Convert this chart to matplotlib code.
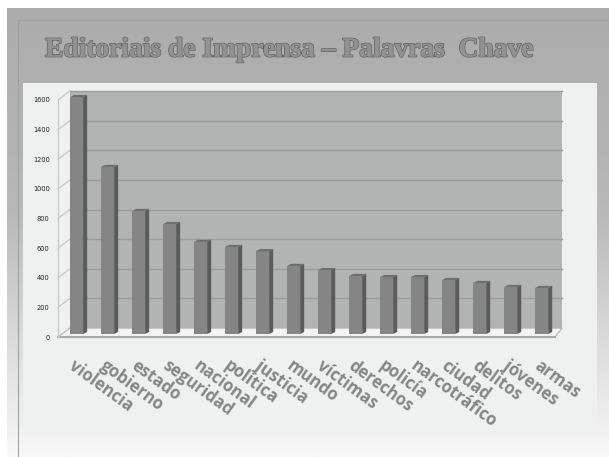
import matplotlib
matplotlib.use('Agg')
import matplotlib.pyplot as plt
import matplotlib.patheffects as pe
from matplotlib.patches import Polygon, Rectangle
import numpy as np

W, H = 609, 457

palavras = ['violencia', 'gobierno', 'estado', 'seguridad', 'nacional', 'política',
            'justicia', 'mundo', 'víctimas', 'derechos', 'policía', 'narcotráfico',
            'ciudad', 'delitos', 'jóvenes', 'armas']
valores = [1600, 1128, 831, 743, 622, 588, 560, 460, 432, 392, 385, 385, 365, 345, 318, 311]
ticks = [0, 200, 400, 600, 800, 1000, 1200, 1400, 1600]

fig = plt.figure(figsize=(W / 100, H / 100), dpi=100, facecolor='white')

# fundo do slide, em pixels
bg = fig.add_axes([0, 0, 1, 1])
bg.axis('off')
grad = np.interp(np.linspace(0, 1, 256), [0, 0.45, 0.75, 1], [0.67, 0.72, 0.86, 0.97])
bg.imshow(grad[:, None], cmap='gray', vmin=0, vmax=1, extent=[7, W, H, 8], aspect='auto')
bg.set_xlim(0, W)
bg.set_ylim(H, 0)
bg.add_patch(Rectangle((18, 20), W, H, fill=False, ec='#a0a0a0', lw=0.8))
bg.add_patch(Rectangle((23, 83), 574, 350, fc='#eff0f0', ec='none'))

bg.text(45, 50, 'Editoriais de Imprensa – Palavras  Chave', family='Liberation Serif',
        weight='bold', fontsize=19.8, color='#929292', va='center', ha='left',
        path_effects=[pe.withStroke(linewidth=1.2, foreground='#626262'),
                      pe.Normal()])

# plano da frente: x=58..555, y=337 (0) .. 100 (1600)
ax = fig.add_axes([58 / W, 1 - 337 / H, (555 - 58) / W, 237 / H])
ax.set_xlim(-0.6, 15.43)
ax.set_ylim(0, 1600)
ax.patch.set_alpha(0)
for s in ax.spines.values():
    s.set_visible(False)

dx = 0.38  # profundidade em categorias
dy = 60    # profundidade em valor
x0, x1 = -0.6, 15.43

# parede do fundo, lateral e chao
ax.add_patch(Polygon([(x0 + dx, dy), (x1 + dx * 0.6, dy), (x1 + dx * 0.6, 1600 + dy),
                      (x0 + dx, 1600 + dy)], fc='#b2b3b3', ec='none', clip_on=False, zorder=1))
ax.add_patch(Polygon([(x0, 0), (x0 + dx, dy), (x1 + dx * 0.6, dy), (x1, 0)],
                     fc='#f4f4f4', ec='#b0b0b0', lw=0.8, clip_on=False, zorder=1.5))
ax.plot([x0, x1], [0, 0], color='#a8a8a8', lw=1.5, clip_on=False, zorder=1.6)
ax.plot([x0, x0], [0, 1600], color='#c8c8c8', lw=0.9, clip_on=False, zorder=1.6)
for t in ticks:
    ax.plot([x0, x0 + dx], [t, t + dy], color='#c8c8c8', lw=0.9, clip_on=False, zorder=1.6)
    if t > 0:
        ax.plot([x0 + dx, x1 + dx * 0.6], [t + dy, t + dy], color='#9c9e9e', lw=1.0,
                clip_on=False, zorder=1.6)

# barras com falso 3D
x = np.arange(len(valores))
largura = 0.42
base = 20
sx = 0.13
sy = 14
ax.bar(x, valores, width=largura, bottom=base, color='#858585', zorder=3, clip_on=False)
for xi, v in zip(x, valores):
    r = xi + largura / 2
    l = xi - largura / 2
    top = v + base
    ax.add_patch(Polygon([(r, base), (r + sx, base + sy), (r + sx, top + sy), (r, top)],
                         fc='#5b5b5b', ec='none', zorder=3, clip_on=False))
    ax.add_patch(Polygon([(l, top), (l + sx, top + sy), (r + sx, top + sy), (r, top)],
                         fc='#6e6e6e', ec='none', zorder=3, clip_on=False))

ax.set_yticks(ticks)
ax.set_yticklabels([str(t) for t in ticks], fontsize=4.8, color='#222222')
ax.tick_params(axis='y', length=0, pad=6)
ax.set_xticks(x)
ax.set_xticklabels(palavras, rotation=-36, ha='left', va='top', rotation_mode='anchor',
                   fontsize=12, fontweight='bold', family='Open Sans', color='#858585')
ax.tick_params(axis='x', length=0, pad=14)

plt.savefig('out.png', dpi=100)
